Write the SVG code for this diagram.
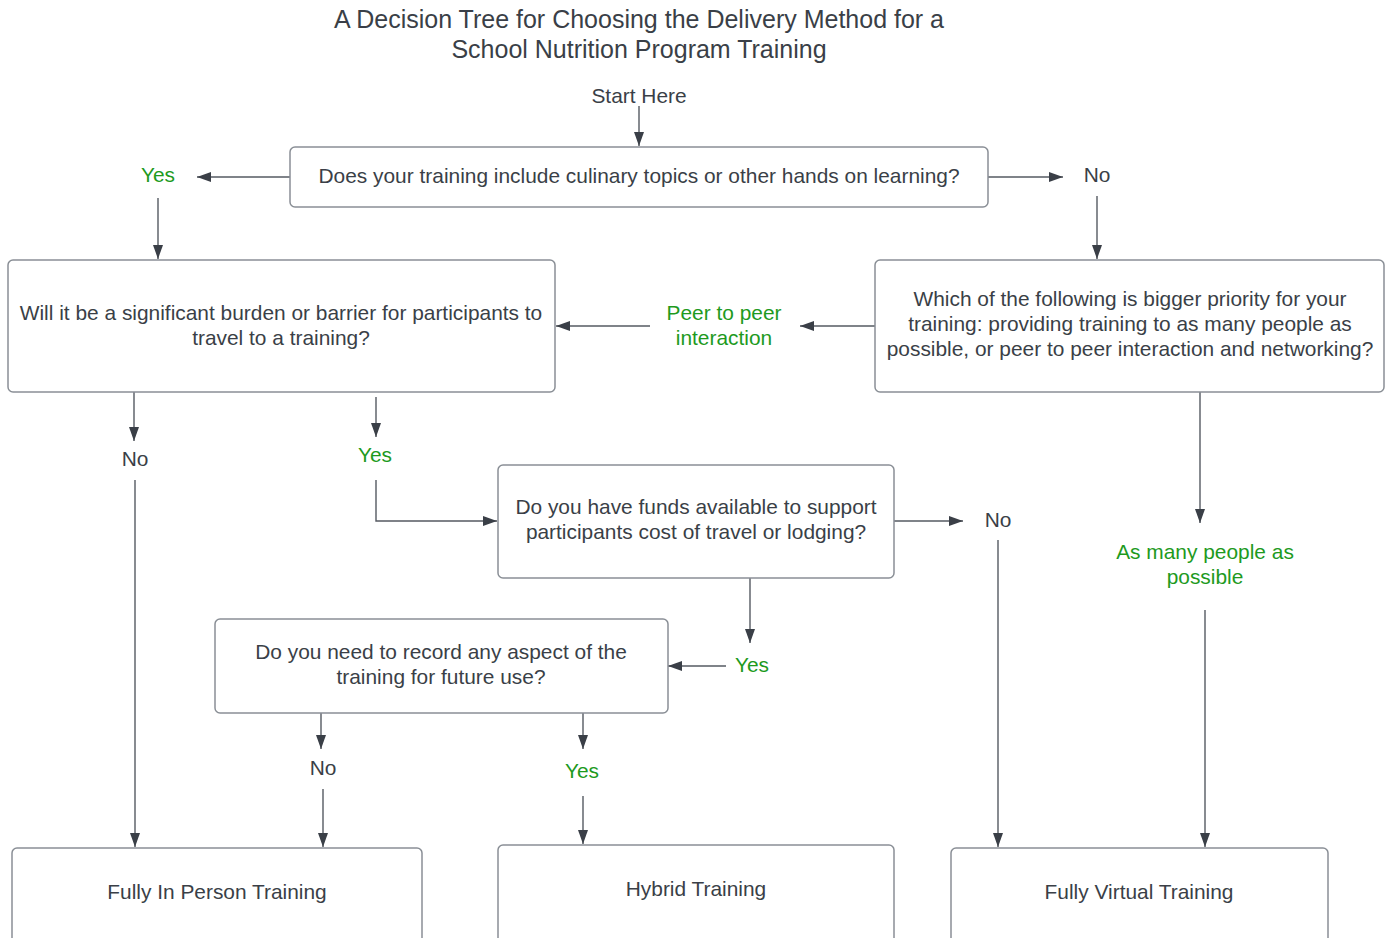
<svg xmlns="http://www.w3.org/2000/svg" width="1390" height="938" viewBox="0 0 1390 938">
<style>
text{font-family:"Liberation Sans",Arial,sans-serif;font-size:20.9px;fill:#3a3f47;text-anchor:middle;dominant-baseline:central}
.g{fill:#1e9a1e}
.t{font-size:25px}
.box{fill:#fff;stroke:#8a8f96;stroke-width:1.5}
.c line,.c path{stroke:#555a62;stroke-width:1.4;fill:none}
</style>
<defs>
<marker id="ah" viewBox="0 0 14 10" refX="14" refY="5" markerWidth="14" markerHeight="10" markerUnits="userSpaceOnUse" orient="auto">
<path d="M0,0 L14,5 L0,10 Z" fill="#3a3f47"/>
</marker>
</defs>
<rect width="1390" height="938" fill="#fff"/>
<g id="title">
<text class="t" x="639" y="19">A Decision Tree for Choosing the Delivery Method for a</text>
<text class="t" x="639" y="49">School Nutrition Program Training</text>
</g>
<g id="start"><text x="639" y="95">Start Here</text></g>
<g class="c" id="connectors">
<line x1="639" y1="106" x2="639" y2="146" marker-end="url(#ah)"/>
<line x1="290" y1="177" x2="197" y2="177" marker-end="url(#ah)"/>
<line x1="988" y1="177" x2="1063" y2="177" marker-end="url(#ah)"/>
<line x1="158" y1="198" x2="158" y2="259" marker-end="url(#ah)"/>
<line x1="1097" y1="196" x2="1097" y2="259" marker-end="url(#ah)"/>
<line x1="875" y1="326" x2="800" y2="326" marker-end="url(#ah)"/>
<line x1="650" y1="326" x2="556" y2="326" marker-end="url(#ah)"/>
<line x1="134" y1="392" x2="134" y2="441" marker-end="url(#ah)"/>
<line x1="135" y1="480" x2="135" y2="847" marker-end="url(#ah)"/>
<line x1="376" y1="397" x2="376" y2="437" marker-end="url(#ah)"/>
<path d="M376,480 L376,521 L497,521" marker-end="url(#ah)"/>
<line x1="894" y1="521" x2="963" y2="521" marker-end="url(#ah)"/>
<line x1="998" y1="540" x2="998" y2="847" marker-end="url(#ah)"/>
<line x1="750" y1="578" x2="750" y2="643" marker-end="url(#ah)"/>
<line x1="726" y1="666" x2="668" y2="666" marker-end="url(#ah)"/>
<line x1="321" y1="713" x2="321" y2="749" marker-end="url(#ah)"/>
<line x1="323" y1="789" x2="323" y2="847" marker-end="url(#ah)"/>
<line x1="583" y1="713" x2="583" y2="749" marker-end="url(#ah)"/>
<line x1="583" y1="796" x2="583" y2="844" marker-end="url(#ah)"/>
<line x1="1200" y1="392" x2="1200" y2="523" marker-end="url(#ah)"/>
<line x1="1205" y1="610" x2="1205" y2="847" marker-end="url(#ah)"/>
</g>
<g id="labels">
<text class="g" x="158" y="174">Yes</text>
<text x="1097" y="174">No</text>
<text class="g" x="724" y="312">Peer to peer</text>
<text class="g" x="724" y="337">interaction</text>
<text x="135" y="458">No</text>
<text class="g" x="375" y="454">Yes</text>
<text x="998" y="519">No</text>
<text class="g" x="752" y="664">Yes</text>
<text x="323" y="767">No</text>
<text class="g" x="582" y="770">Yes</text>
<text class="g" x="1205" y="551">As many people as</text>
<text class="g" x="1205" y="576">possible</text>
</g>
<g id="q1">
<rect class="box" x="290" y="147" width="698" height="60" rx="5"/>
<text x="639" y="175">Does your training include culinary topics or other hands on learning?</text>
</g>
<g id="q2">
<rect class="box" x="8" y="260" width="547" height="132" rx="5"/>
<text x="281" y="312">Will it be a significant burden or barrier for participants to</text>
<text x="281" y="337">travel to a training?</text>
</g>
<g id="q3">
<rect class="box" x="875" y="260" width="509" height="132" rx="5"/>
<text x="1130" y="298">Which of the following is bigger priority for your</text>
<text x="1130" y="323">training: providing training to as many people as</text>
<text x="1130" y="348">possible, or peer to peer interaction and networking?</text>
</g>
<g id="q4">
<rect class="box" x="498" y="465" width="396" height="113" rx="5"/>
<text x="696" y="506">Do you have funds available to support</text>
<text x="696" y="531">participants cost of travel or lodging?</text>
</g>
<g id="q5">
<rect class="box" x="215" y="619" width="453" height="94" rx="5"/>
<text x="441" y="651">Do you need to record any aspect of the</text>
<text x="441" y="676">training for future use?</text>
</g>
<g id="inperson">
<rect class="box" x="12" y="848" width="410" height="120" rx="5"/>
<text x="217" y="891">Fully In Person Training</text>
</g>
<g id="hybrid">
<rect class="box" x="498" y="845" width="396" height="120" rx="5"/>
<text x="696" y="888">Hybrid Training</text>
</g>
<g id="virtual">
<rect class="box" x="951" y="848" width="377" height="120" rx="5"/>
<text x="1139" y="891">Fully Virtual Training</text>
</g>
</svg>
